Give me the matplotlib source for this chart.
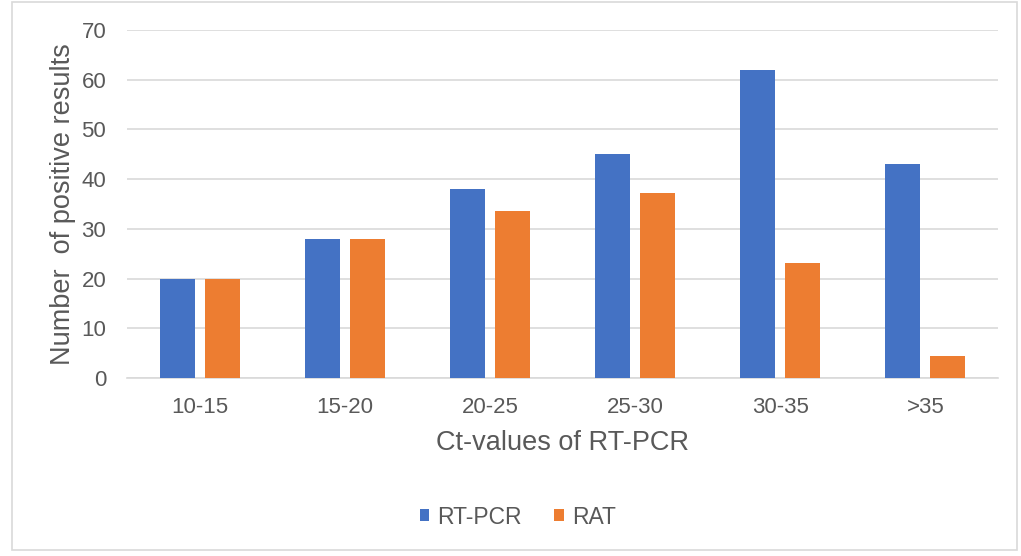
import matplotlib
matplotlib.use("Agg")
import matplotlib.pyplot as plt
import numpy as np
from matplotlib.patches import Rectangle

categories = ["10-15", "15-20", "20-25", "25-30", "30-35", ">35"]
rt_pcr = [20, 28, 38, 45, 62, 43]
rat = [20, 28, 33.6, 37.3, 23.2, 4.5]
y_ticks = [0, 10, 20, 30, 40, 50, 60, 70]

plt.rcParams["font.family"] = ["Liberation Sans", "DejaVu Sans"]
text_grey = "#595959"

fig = plt.figure(figsize=(10.21, 5.56), dpi=100)
fig.patch.set_facecolor("white")
fig.add_artist(Rectangle((0.012, 0.011), 0.984, 0.985, transform=fig.transFigure,
                         fill=False, edgecolor="#d9d9d9", linewidth=1.2))

ax = fig.add_axes([0.1244, 0.3201, 0.853, 0.6259])
x = np.arange(len(categories))
w = 0.24
ax.bar(x - 0.155, rt_pcr, w, color="#4472c4", label="RT-PCR", zorder=3)
ax.bar(x + 0.155, rat, w, color="#ed7d31", label="RAT", zorder=3)

ax.set_xlim(-0.5, len(categories) - 0.5)
ax.set_ylim(0, 70)
ax.set_yticks(y_ticks)
ax.set_xticks(x)
ax.set_xticklabels(categories)
ax.yaxis.grid(True, color="#d9d9d9", linewidth=1.2, zorder=0)
ax.set_axisbelow(True)
for s in ["top", "right", "left"]:
    ax.spines[s].set_visible(False)
ax.spines["bottom"].set_color("#d9d9d9")
ax.spines["bottom"].set_linewidth(1.2)
ax.tick_params(axis="both", length=0, labelsize=16, colors=text_grey)
ax.tick_params(axis="x", pad=14)
ax.tick_params(axis="y", pad=15)

ax.set_xlabel("Ct-values of RT-PCR", fontsize=19.5, color=text_grey, labelpad=8)
ax.set_ylabel("Number  of positive results", fontsize=19.5, color=text_grey, labelpad=4)

leg = fig.legend(loc="center", bbox_to_anchor=(0.507, 0.07), ncol=2, frameon=False,
                 fontsize=16.5, handlelength=0.42, handleheight=0.42, columnspacing=1.4,
                 handletextpad=0.35)
for t in leg.get_texts():
    t.set_color(text_grey)

fig.savefig("out.png", dpi=100)
